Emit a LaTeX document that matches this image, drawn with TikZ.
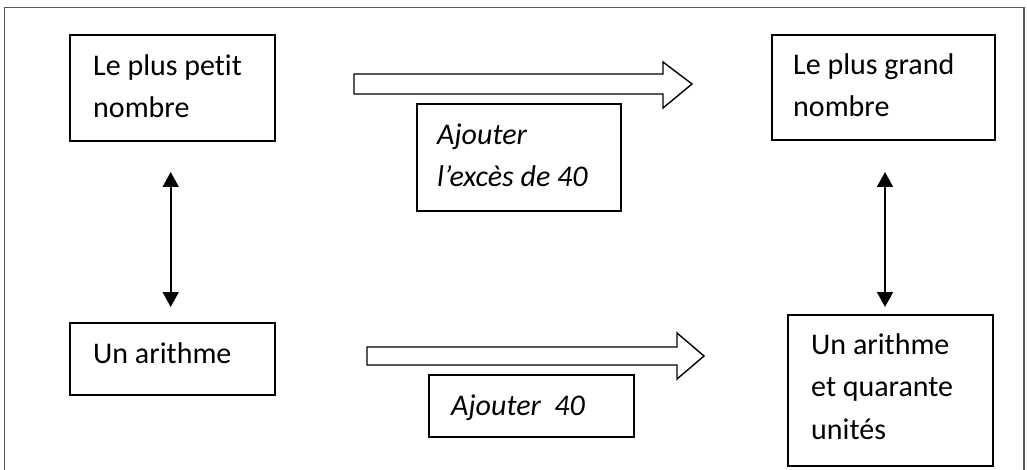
\documentclass[tikz,border=0pt]{standalone}
\usepackage{fontspec}
\setmainfont{Carlito}[Ligatures=NoCommon]
\usetikzlibrary{arrows.meta}
\tikzset{
  box/.style={draw=black, line width=2.2pt, inner sep=0pt, anchor=north west},
  txt/.style={inner sep=0pt, anchor=base west, align=left, font=\fontsize{30}{42.5}\selectfont},
  itxt/.style={txt, font=\fontsize{30}{42.5}\selectfont\itshape},
  dbl/.style={line width=1.6pt, {Triangle[length=15pt,width=16pt]}-{Triangle[length=15pt,width=16pt]}},
  blockarrow/.style={draw=black, line width=1.4pt, fill=white, line join=miter},
  frame/.style={draw=black!65, line width=1.2pt}
}
\begin{document}
\begin{tikzpicture}[x=1pt,y=-1pt]
\useasboundingbox (0,0) rectangle (1027,470);
\clip (0,0) rectangle (1027,470);
\draw[frame] (4.5,7.5) rectangle (1024,490);

% boxes
\node[box, minimum width=205pt, minimum height=106pt] (b1) at (69,34) {};
\node[txt] (t1) at (93,118) {Le plus petit\\nombre};

\node[box, minimum width=205pt, minimum height=72pt] (b2) at (69,322) {};
\node[txt] (t2) at (93,363) {Un arithme};

\node[box, minimum width=223pt, minimum height=105pt] (b3) at (771,34) {};
\node[txt] (t3) at (793,117) {Le plus grand\\nombre};

\node[box, minimum width=205pt, minimum height=151pt] (b4) at (787,314) {};
\node[txt] (t4) at (811,439) {Un arithme\\et quarante\\unités};

\node[box, minimum width=204pt, minimum height=107pt] (b5) at (416,103) {};
\node[itxt] (t5) at (437,187) {Ajouter\\l’excès de 40};

\node[box, minimum width=205pt, minimum height=62pt] (b6) at (428,374) {};
\node[itxt] (t6) at (451,415) {Ajouter\ \ 40};

% double arrows
\coordinate (a1t) at (170.7,172);
\coordinate (a1b) at (170.7,307);
\draw[dbl] (a1t) -- (a1b);
\coordinate (a2t) at (885,172);
\coordinate (a2b) at (885,307);
\draw[dbl] (a2t) -- (a2b);

% block arrows
\draw[blockarrow] (354,74) -- (663,74) -- (663,62) -- (692,84) -- (663,108) -- (663,94) -- (354,94) -- cycle;
\draw[blockarrow] (367,347) -- (677,347) -- (677,333) -- (704,356) -- (677,379) -- (677,365) -- (367,365) -- cycle;
\end{tikzpicture}
\end{document}
